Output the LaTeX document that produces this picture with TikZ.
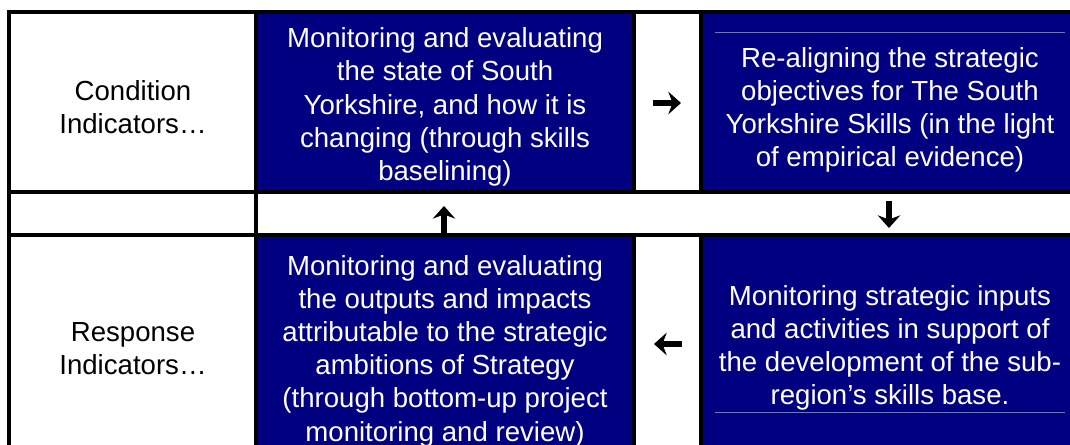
\documentclass[tikz,border=0pt]{standalone}
\usepackage{fontspec}
\setmainfont{Liberation Sans}
\usetikzlibrary{arrows.meta}

\definecolor{cellblue}{RGB}{0,0,128}
\definecolor{rulegray}{RGB}{110,118,190}

\tikzset{
    celltext/.style={text=white, align=center, font=\fontsize{7.85}{9.45}\selectfont},
    sidetext/.style={text=black, align=center, font=\fontsize{7.85}{9.45}\selectfont},
    tablerule/.style={black, line width=0.95pt},
    flowarrow/.style={black, line width=1.6pt, -{Stealth[length=3.6pt, width=6.4pt, inset=1.2pt]}},
}

\begin{document}
\begin{tikzpicture}
        \useasboundingbox (0,0) rectangle (10.7,4.44);
        \clip (0,0) rectangle (10.7,4.44);

        \fill[cellblue] (2.56,2.52) rectangle (6.34,4.32);
        \fill[cellblue] (7.01,2.52) rectangle (10.9,4.32);
        \fill[cellblue] (2.56,-0.1) rectangle (6.34,2.09);
        \fill[cellblue] (7.01,-0.1) rectangle (10.9,2.09);

        \draw[rulegray, very thin] (7.15,4.12) -- (10.65,4.12);
        \draw[rulegray, very thin] (7.15,0.32) -- (10.65,0.32);

        % the rules of the table
        \draw[tablerule] (0.09,-0.1) -- (0.09,4.32) -- (10.9,4.32);
        \draw[tablerule] (0.09,2.52) -- (10.9,2.52);
        \draw[tablerule] (0.09,2.09) -- (10.9,2.09);
        \draw[tablerule] (2.56,-0.1) -- (2.56,4.32);
        \draw[tablerule] (6.34,2.52) -- (6.34,4.32);
        \draw[tablerule] (7.01,2.52) -- (7.01,4.32);
        \draw[tablerule] (6.34,-0.1) -- (6.34,2.09);
        \draw[tablerule] (7.01,-0.1) -- (7.01,2.09);

        \node[sidetext] (cond) at (1.33, 3.37) {Condition\\Indicators…};
        \node[sidetext] (resp) at (1.33, 0.95) {Response\\Indicators…};

        \node[celltext] (state) at (4.45, 3.37) {Monitoring and evaluating\\the state of South\\Yorkshire, and how it is\\changing (through skills\\baselining)};
        \node[celltext] (realign) at (8.90, 3.34) {Re-aligning the strategic\\objectives for The South\\Yorkshire Skills (in the light\\of empirical evidence)};
        \node[celltext] (outputs) at (4.45, 0.93) {Monitoring and evaluating\\the outputs and impacts\\attributable to the strategic\\ambitions of Strategy\\(through bottom-up project\\monitoring and review)};
        \node[celltext] (inputs) at (8.90, 0.96) {Monitoring strategic inputs\\and activities in support of\\the development of the sub-\\region’s skills base.};

        % arrows round the cycle
        \coordinate (rtail) at (6.53, 3.41);
        \coordinate (rhead) at (6.81, 3.41);
        \coordinate (dtail) at (8.89, 2.43);
        \coordinate (dhead) at (8.89, 2.16);
        \coordinate (ltail) at (6.82, 1.00);
        \coordinate (lhead) at (6.54, 1.00);
        \coordinate (utail) at (4.44, 2.10);
        \coordinate (uhead) at (4.44, 2.38);

        \draw[flowarrow] (rtail) -- (rhead);
        \draw[flowarrow] (dtail) -- (dhead);
        \draw[flowarrow] (ltail) -- (lhead);
        \draw[flowarrow] (utail) -- (uhead);
    \end{tikzpicture}
\end{document}
